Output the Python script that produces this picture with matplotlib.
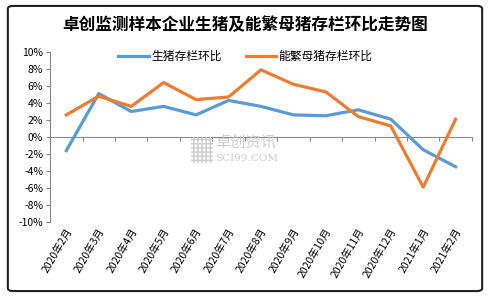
import numpy as np
import matplotlib
matplotlib.use("Agg")
import matplotlib.pyplot as plt
from matplotlib.patches import FancyBboxPatch, Rectangle
from matplotlib.transforms import blended_transform_factory

plt.rcParams['font.family'] = ['Noto Sans CJK SC', 'DejaVu Sans']

# data (percent, month-on-month)
months = ['2020年2月', '2020年3月', '2020年4月', '2020年5月', '2020年6月', '2020年7月',
          '2020年8月', '2020年9月', '2020年10月', '2020年11月', '2020年12月',
          '2021年1月', '2021年2月']
hogs = [-1.6, 5.1, 3.0, 3.6, 2.6, 4.3, 3.6, 2.6, 2.5, 3.2, 2.1, -1.5, -3.5]
sows = [2.6, 4.8, 3.6, 6.4, 4.4, 4.7, 7.9, 6.2, 5.3, 2.4, 1.3, -5.9, 2.1]
yticks = [-10, -8, -6, -4, -2, 0, 2, 4, 6, 8, 10]

title = '卓创监测样本企业生猪及能繁母猪存栏环比走势图'
label_hogs = '生猪存栏环比'
label_sows = '能繁母猪存栏环比'

fig = plt.figure(figsize=(4.91, 2.97), dpi=100)
ax = fig.add_axes([0.102, 0.2525, 0.859, 0.5725])

x = np.arange(len(months))
ax.plot(x, hogs, color='#5B9BD5', linewidth=2.3, label=label_hogs, zorder=3)
ax.plot(x, sows, color='#ED7D31', linewidth=2.3, label=label_sows, zorder=3)

ax.set_xlim(-0.5, len(months) - 0.5)
ax.set_ylim(-10, 10)
ax.set_yticks(yticks)
ax.set_yticklabels([f'{v}%' for v in yticks], fontsize=7.5)
ax.tick_params(axis='y', direction='out', length=3, color='#888888', pad=2)

for s in ['top', 'right']:
    ax.spines[s].set_visible(False)
ax.spines['left'].set_color('#888888')
ax.spines['bottom'].set_position(('data', 0))
ax.spines['bottom'].set_color('#888888')

# category boundary ticks on the zero line
ax.set_xticks(np.arange(len(months) + 1) - 0.5)
ax.set_xticklabels([])
ax.tick_params(axis='x', direction='out', length=3, color='#888888')

# month labels along the bottom
trans = blended_transform_factory(ax.transData, ax.transAxes)
for i, m in enumerate(months):
    ax.text(i + 0.1, -0.04, m, transform=trans, rotation=60, rotation_mode='anchor',
            ha='right', va='center', fontsize=7.5)

# watermark
fig.text(0.438, 0.522, '卓创资讯', fontsize=11, color='#cccccc', ha='left', va='center',
         zorder=1)
fig.text(0.438, 0.465, 'SCI99.COM', fontsize=7.5, color='#cccccc', ha='left', va='center',
         family='DejaVu Serif', zorder=1)
fig.patches.append(Rectangle((0.39, 0.45), 0.043, 0.09, transform=fig.transFigure,
                             facecolor='none', edgecolor='#cccccc', hatch='++++',
                             linewidth=0, zorder=1))

fig.text(0.5, 0.915, title, ha='center', va='center', fontsize=12, fontweight='bold')
ax.legend(loc='center', bbox_to_anchor=(0.5, 0.81), bbox_transform=fig.transFigure,
          ncol=2, frameon=False, fontsize=8.5, handlelength=2.6, columnspacing=2.0,
          handletextpad=0.2)

# outer frame
fig.patches.append(FancyBboxPatch((0.016, 0.02), 0.966, 0.96, transform=fig.transFigure,
                                  boxstyle='round,pad=0,rounding_size=0.01',
                                  facecolor='none', edgecolor='#222222', linewidth=1.5))

fig.savefig('out.png', dpi=100)
